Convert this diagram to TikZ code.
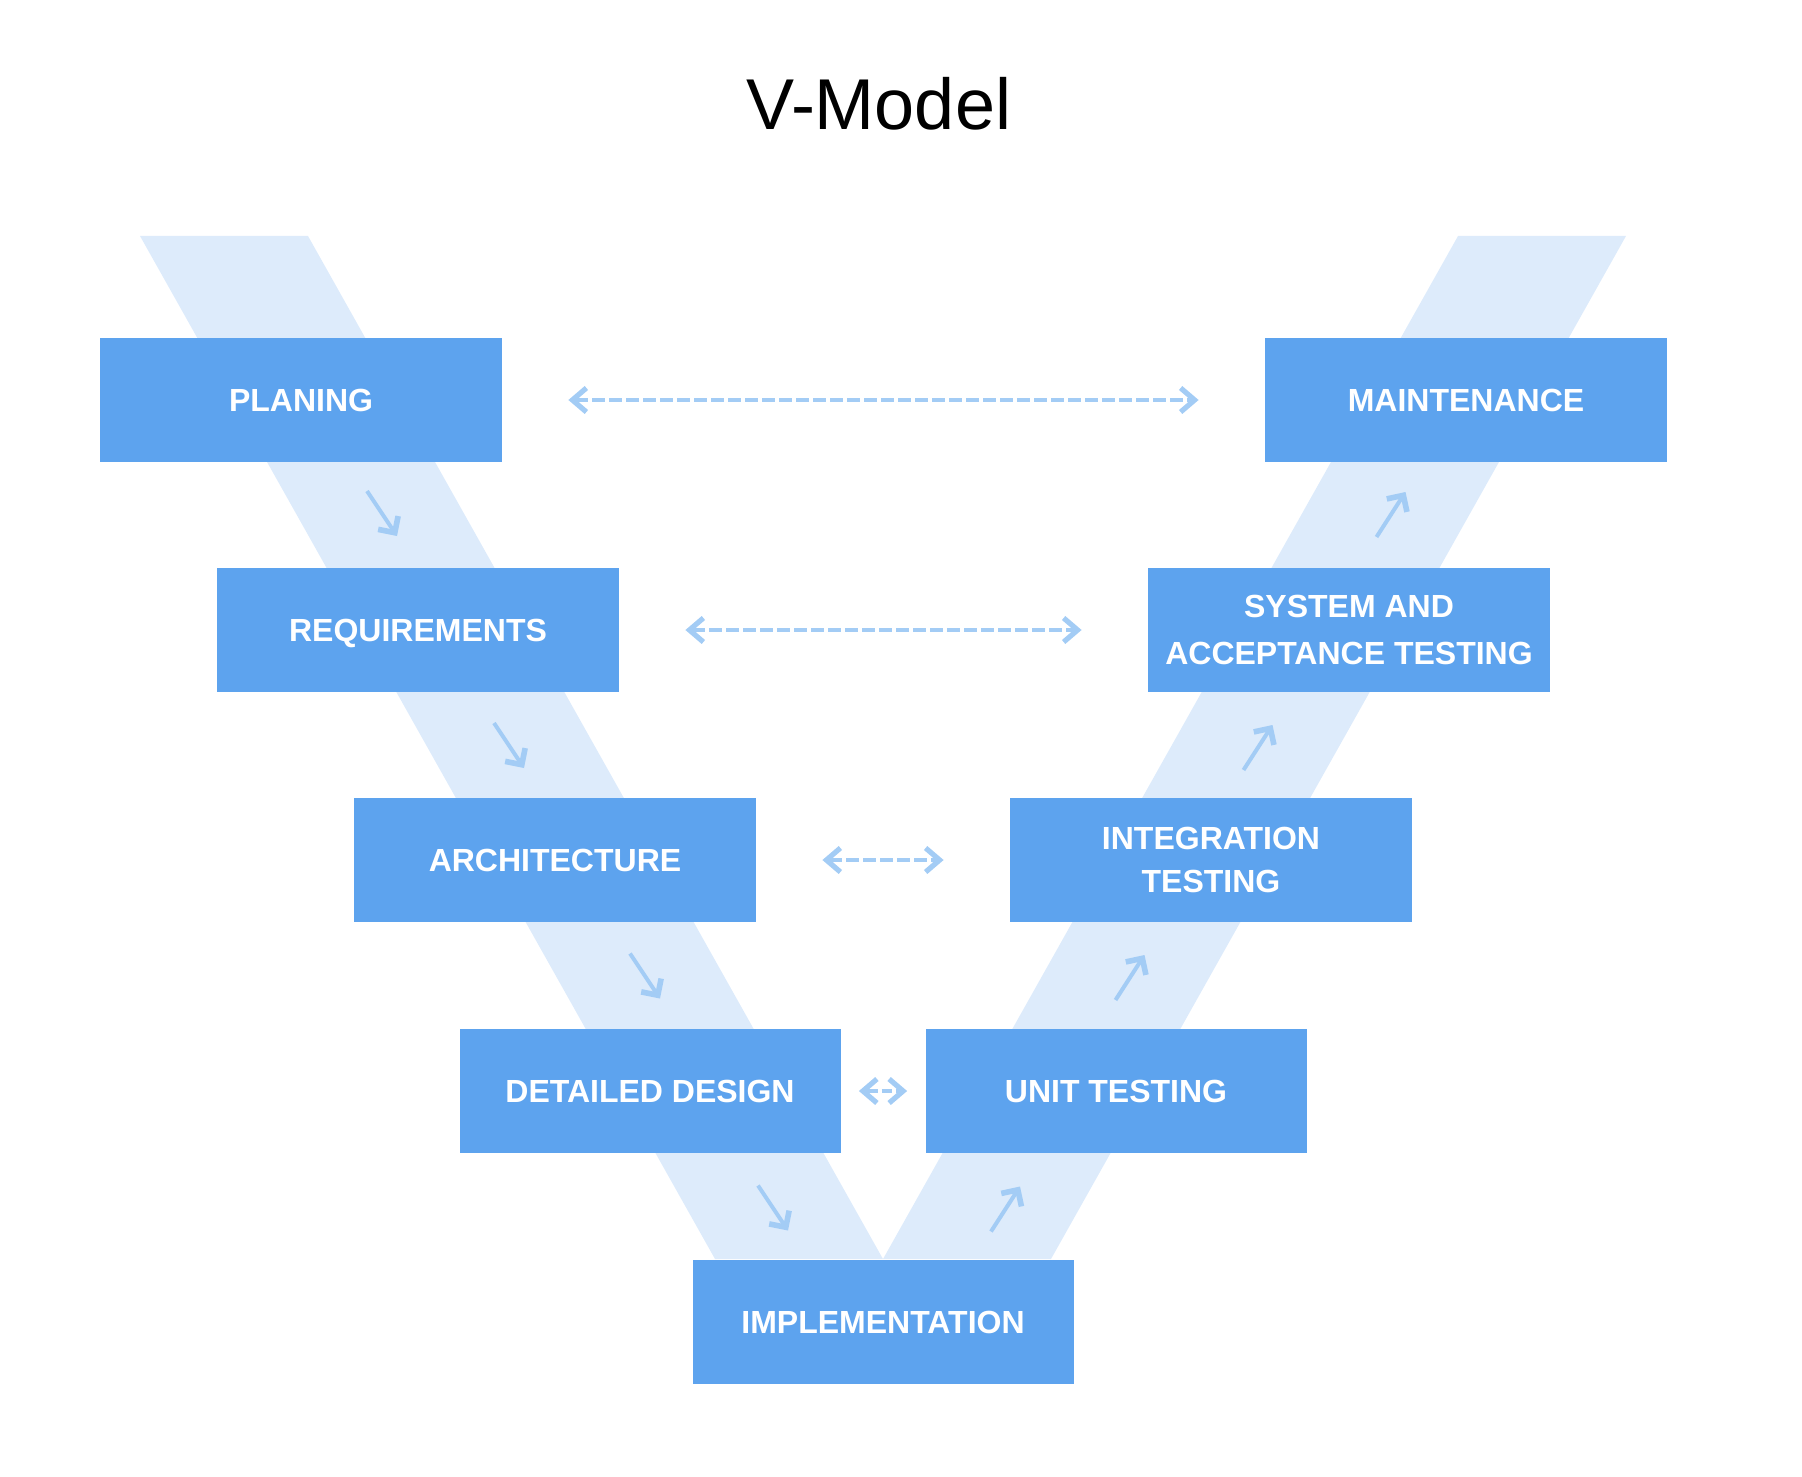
\documentclass[tikz,border=0pt]{standalone}
\usepackage{fontspec}
\setmainfont{Liberation Sans}
\usepackage{tikz}
\usetikzlibrary{arrows.meta}
\definecolor{boxblue}{HTML}{5DA3EE}
\definecolor{bandblue}{HTML}{DDEBFB}
\definecolor{tipblue}{HTML}{A3CCF5}
\tikzstyle{flow} = [line width=2pt,tipblue,-{Straight Barb[sharp,length=6pt,width=12pt,line width=2.8pt]}]

\begin{document}
\begin{tikzpicture}[x=0.5pt,y=-0.5pt,
  phase/.style = {fill=boxblue,text=white,minimum width=201pt,minimum height=62pt,
        inner sep=0pt,text depth=0pt,align=center,font=\bfseries\fontsize{16pt}{22.5pt}\selectfont},
  narrow/.style = {phase,minimum width=190.5pt},
  band/.style = {fill=bandblue},
  link/.style = {line width=2pt,tipblue,dash pattern=on 6.5pt off 2pt,
        {Straight Barb[sharp,length=7pt,width=12pt,line width=2.6pt]}-{Straight Barb[sharp,length=7pt,width=12pt,line width=2.6pt]},
        shorten <=33pt,shorten >=33pt}
]
 \useasboundingbox (0,0) rectangle (1802,1476);
 \fill[band] (140,236) -- (308,236) -- (883,1259) -- (715,1259) -- cycle;
 \fill[band] (1626,236) -- (1458,236) -- (883,1259) -- (1051,1259) -- cycle;
 \node[anchor=base,font=\fontsize{36pt}{40pt}\selectfont] (title) at (879,130) {V-Model};
 \node[phase] (l1) at (301,400) {PLANING};
 \node[phase] (l2) at (418,630) {REQUIREMENTS};
 \node[phase] (l3) at (555,860) {ARCHITECTURE};
 \node[narrow] (l4) at (650,1091) {DETAILED DESIGN};
 \node[narrow] (m) at (883,1322) {IMPLEMENTATION};
 \node[narrow] (r4) at (1116,1091) {UNIT TESTING};
 \node[phase] (r3) at (1211,860) {INTEGRATION\\[-1pt]TESTING};
 \node[phase] (r2) at (1349,630) {SYSTEM AND\\[1pt]ACCEPTANCE TESTING};
 \node[phase] (r1) at (1466,400) {MAINTENANCE};
 \foreach \x/\y in {382/513.5,509/745.5,645/976,773/1208}
   \draw[flow] (\x,\y) ++(-15,-22.5) -- ++(30,45);
 \foreach \x/\y in {1005.5/1209,1130/977.5,1258/747.5,1391/514.5}
   \draw[flow] (\x,\y) ++(-14.5,22.5) -- ++(29,-45);
 \draw[link] (l1) -- (r1);
 \draw[link] (l2) -- (r2);
 \draw[link] (l3) -- (r3);
 \draw[link,shorten <=9pt,shorten >=9pt,dash pattern=on 6pt off 2pt on 5pt off 2pt on 12pt] (l4) -- (r4);
\end{tikzpicture}
\end{document}
